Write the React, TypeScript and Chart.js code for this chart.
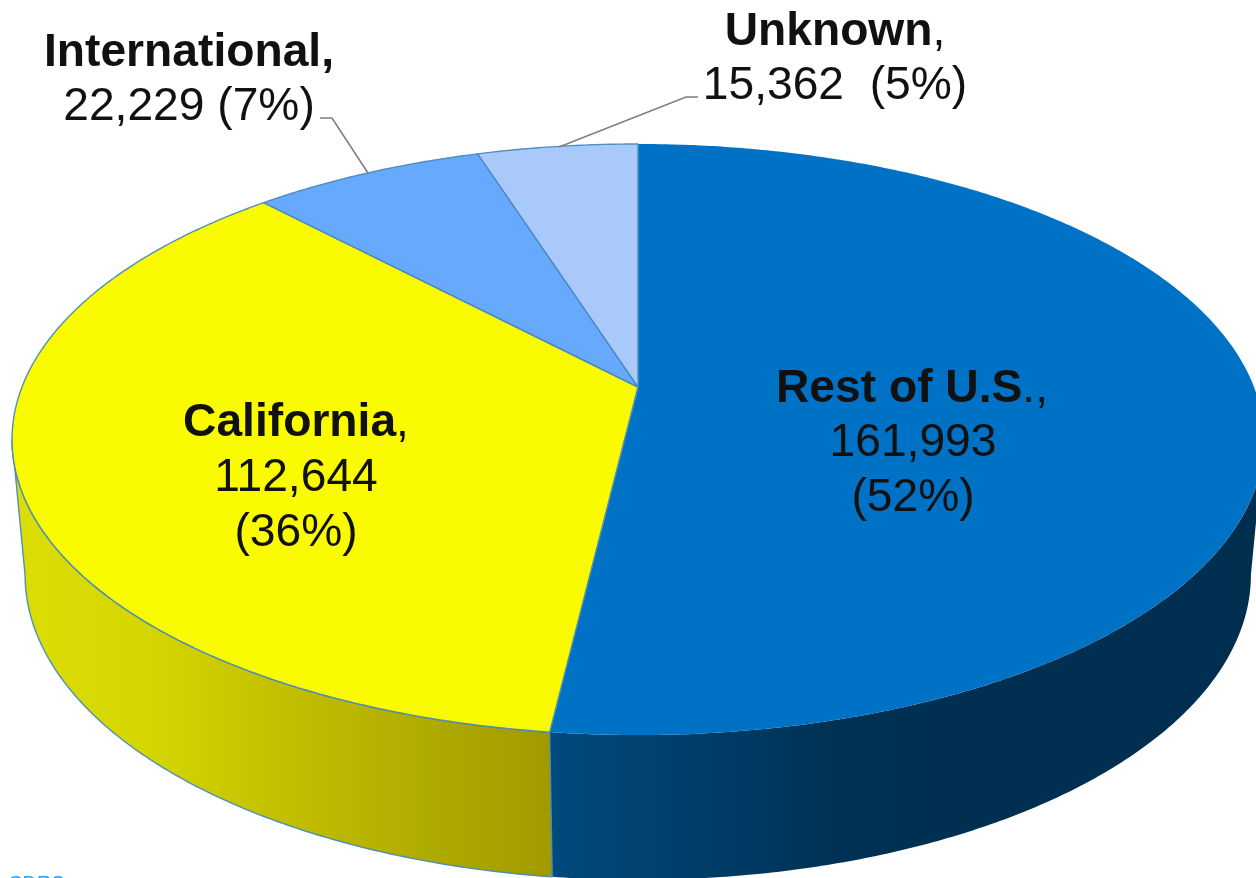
import React, { useEffect, useRef } from "react";
import { Chart, registerables } from "chart.js";

Chart.register(...registerables);

const categories = ["Rest of U.S.", "California", "International", "Unknown"];
const values = [161993, 112644, 22229, 15362];
const percents = [52, 36, 7, 5];
const topColors = ["#0072C6", "#FBFB00", "#66A9FD", "#A9C9FB"];
const footerText = "CDRS";

const EDGE = "rgba(72,138,190,0.95)";
const TEXT = "#111111";
const FONT = '"Liberation Sans", Arial, sans-serif';

type Proj = { cx: number; cy: number; a: number; b: number; p: number };
const TOP: Proj = { cx: 638, cy: 387, a: 616, b: 286.2, p: 0.1777 };
const BOTTOM: Proj = { cx: 638, cy: 523, a: 604, b: 296.2, p: 0.17 };

function project(q: Proj, t: number): [number, number] {
  const u = Math.sin(t);
  const v = -Math.cos(t);
  const d = 1 - q.p * v;
  return [q.cx + (q.a * u) / d, q.cy + (q.b * v) / d];
}

function arcPoints(q: Proj, from: number, to: number) {
  const n = Math.max(2, Math.ceil(Math.abs(to - from) / 0.008));
  const pts: [number, number][] = [];
  for (let i = 0; i <= n; i++) pts.push(project(q, from + ((to - from) * i) / n));
  return pts;
}

function trace(ctx: CanvasRenderingContext2D, pts: [number, number][]) {
  pts.forEach(([x, y], i) => (i ? ctx.lineTo(x, y) : ctx.moveTo(x, y)));
}

function wall(ctx: CanvasRenderingContext2D, from: number, to: number, stops: [number, string][], edged: boolean) {
  const topMin = Math.acos(-TOP.p);
  const botMin = Math.acos(-BOTTOM.p);
  const tA = Math.max(from, topMin);
  const tB = Math.min(to, 2 * Math.PI - topMin);
  if (tB <= tA) return;
  const bA = Math.max(from, botMin);
  const bB = Math.min(to, 2 * Math.PI - botMin);
  const pts = [...arcPoints(TOP, tA, tB), ...arcPoints(BOTTOM, bB, bA)];
  const g = ctx.createLinearGradient(0, 0, 1256, 0);
  stops.forEach(([o, c]) => g.addColorStop(o, c));
  ctx.beginPath();
  trace(ctx, pts);
  ctx.closePath();
  ctx.fillStyle = g;
  ctx.fill();
  if (edged) {
    ctx.strokeStyle = EDGE;
    ctx.lineWidth = 1.4;
    ctx.stroke();
  }
}

const wallStops: [number, string][][] = [
  [[0.44, "#004A7E"], [0.56, "#003D69"], [0.68, "#003052"], [1, "#002E4F"]],
  [[0, "#DEDE06"], [0.12, "#D4D600"], [0.24, "#C0BC00"], [0.44, "#A09A00"]],
];

const pie3d = {
  id: "pie3d",
  beforeDatasetsDraw(chart: any) {
    const ctx: CanvasRenderingContext2D = chart.ctx;
    const arcs = chart.getDatasetMeta(0).data;
    const ang = (el: any) => [el.startAngle + Math.PI / 2, el.endAngle + Math.PI / 2];
    ctx.save();
    ctx.lineJoin = "round";
    arcs.forEach((el: any, i: number) => {
      if (wallStops[i]) {
        const [a, b] = ang(el);
        wall(ctx, a, b, wallStops[i], i === 1);
      }
    });
    arcs.forEach((el: any, i: number) => {
      const [a, b] = ang(el);
      const rim = arcPoints(TOP, a, b);
      ctx.beginPath();
      ctx.moveTo(TOP.cx, TOP.cy);
      rim.forEach(([x, y]) => ctx.lineTo(x, y));
      ctx.closePath();
      ctx.fillStyle = topColors[i];
      ctx.fill();
      ctx.strokeStyle = EDGE;
      ctx.lineWidth = 1.4;
      if (i === 0) {
        // the big slice carries no visible rim line, only its two radii
        const first = rim[0];
        const last = rim[rim.length - 1];
        ctx.beginPath();
        ctx.moveTo(first[0], first[1]);
        ctx.lineTo(TOP.cx, TOP.cy);
        ctx.lineTo(last[0], last[1]);
        ctx.stroke();
      } else {
        ctx.stroke();
      }
    });
    ctx.restore();
    return false;
  },
  afterDraw(chart: any) {
    const ctx: CanvasRenderingContext2D = chart.ctx;
    ctx.save();
    ctx.strokeStyle = "#7F7F7F";
    ctx.lineWidth = 1.6;
    [
      [[320, 118], [332, 118], [368, 173]],
      [[698, 97], [686, 97], [559, 147]],
    ].forEach((l) => {
      ctx.beginPath();
      trace(ctx, l as [number, number][]);
      ctx.stroke();
    });

    const bold = `bold 46.2px ${FONT}`;
    const normal = `46.2px ${FONT}`;
    ctx.textBaseline = "alphabetic";
    ctx.textAlign = "left";
    ctx.fillStyle = TEXT;
    const header = (boldPart: string, plainPart: string, cx: number, y: number) => {
      ctx.font = bold;
      const w1 = ctx.measureText(boldPart).width;
      ctx.font = normal;
      const w2 = ctx.measureText(plainPart).width;
      const x = cx - (w1 + w2) / 2;
      ctx.font = bold;
      ctx.fillText(boldPart, x, y);
      ctx.font = normal;
      ctx.fillText(plainPart, x + w1, y);
    };
    const line = (s: string, cx: number, y: number) => {
      ctx.font = normal;
      const w = ctx.measureText(s).width;
      ctx.fillText(s, cx - w / 2, y);
    };
    const fmt = (i: number) => values[i].toLocaleString("en-US");
    header(categories[0].slice(0, -1), ".,", 912, 402);
    line(fmt(0), 913, 456);
    line(`(${percents[0]}%)`, 913, 511);
    header(categories[1], ",", 296, 436);
    line(fmt(1), 296, 491);
    line(`(${percents[1]}%)`, 296, 546);
    header(categories[2] + ",", "", 189, 66);
    line(`${fmt(2)} (${percents[2]}%)`, 189, 120);
    header(categories[3], ",", 835, 45);
    line(`${fmt(3)}\u00A0 (${percents[3]}%)`, 835, 99);

    ctx.font = `20px ${FONT}`;
    ctx.fillStyle = "#1AA3FF";
    ctx.fillText(footerText, 8, 890);
    ctx.restore();
  },
};

export default function App() {
  const ref = useRef<HTMLCanvasElement>(null);
  useEffect(() => {
    if (!ref.current) return;
    const chart = new Chart(ref.current, {
      type: "pie",
      data: {
        labels: categories,
        datasets: [{ data: values, backgroundColor: topColors, borderWidth: 0 }],
      },
      options: {
        responsive: false,
        animation: false,
        rotation: 0,
        plugins: { legend: { display: false }, tooltip: { enabled: false }, title: { display: false } },
      },
      plugins: [pie3d],
    } as any);
    return () => chart.destroy();
  }, []);
  return (
    <div style={{ position: "fixed", left: 0, top: 0, width: 1256, height: 878, overflow: "hidden", background: "#fff" }}>
      <canvas ref={ref} width={1256} height={878} style={{ display: "block", width: 1256, height: 878 }} />
    </div>
  );
}
